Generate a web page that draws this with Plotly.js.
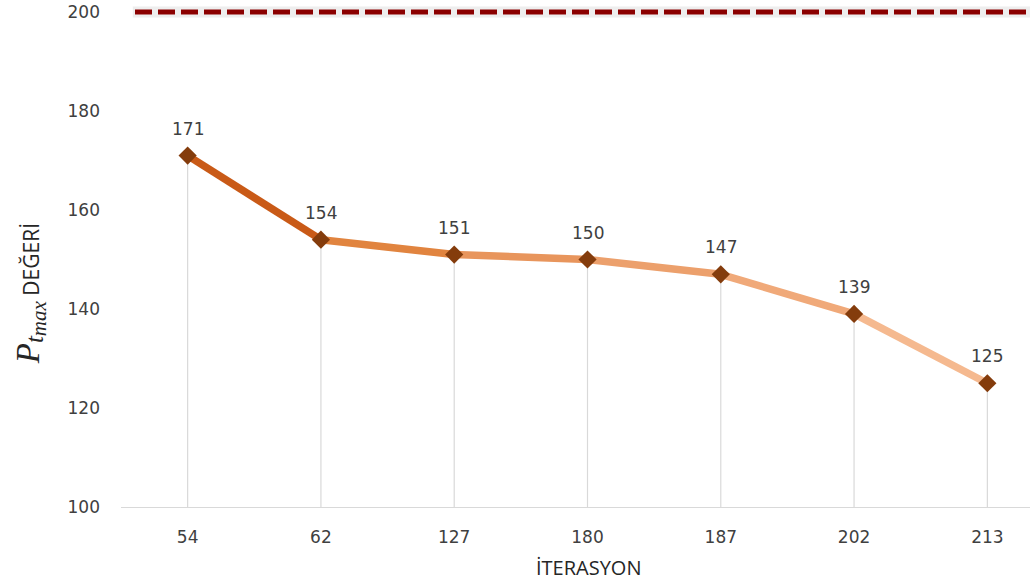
<!DOCTYPE html>
<html>
<head>
<meta charset="utf-8">
<script src="https://cdn.plot.ly/plotly-3.0.1.min.js"></script>
<style>html,body{margin:0;padding:0;background:#fff;}#chart{width:1030px;height:587px;}</style>
</head>
<body>
<div id="chart"></div>
<script>
// ---- data ----
const iterations = ['54', '62', '127', '180', '187', '202', '213'];
const ptmaxValues = [171, 154, 151, 150, 147, 139, 125];
const limitValue = 200;
const yTickValues = [100, 120, 140, 160, 180, 200];
const segmentColors = ['#c95a17', '#e1843f', '#e8955c', '#eca06c', '#f0a979', '#f5b98f'];
const yMin = 100, yMax = 200;

const traces = [];

// vertical drop lines via error bars
traces.push({
  type: 'scatter', mode: 'markers', x: iterations, y: ptmaxValues,
  marker: {size: 1, opacity: 0},
  error_y: {type: 'data', symmetric: false, array: ptmaxValues.map(() => 0),
    arrayminus: ptmaxValues.map(v => v - yMin), color: '#d9d9d9', thickness: 1.2, width: 0},
  hoverinfo: 'skip', showlegend: false
});

// gradient line made of segments
for (let i = 0; i < iterations.length - 1; i++) {
  traces.push({
    type: 'scatter', mode: 'lines',
    x: [iterations[i], iterations[i + 1]], y: [ptmaxValues[i], ptmaxValues[i + 1]],
    line: {color: segmentColors[i], width: 7.5},
    hoverinfo: 'skip', showlegend: false
  });
}

// markers
traces.push({
  type: 'scatter', mode: 'markers', x: iterations, y: ptmaxValues,
  marker: {symbol: 'diamond', size: 14, color: '#843c0c'},
  showlegend: false
});

const annotations = iterations.map((c, i) => ({
  x: i, y: ptmaxValues[i], xref: 'x', yref: 'y', text: String(ptmaxValues[i]),
  showarrow: false, yshift: 27, yanchor: 'middle',
  font: {family: 'DejaVu Sans', size: 17, color: '#404040'}
}));

annotations.push({
  xref: 'paper', yref: 'paper', x: 0.514, y: -0.123, xanchor: 'center', yanchor: 'middle',
  text: 'İTERASYON', showarrow: false,
  font: {family: 'Open Sans', size: 20, color: '#262626'}
});
annotations.push({
  xref: 'paper', yref: 'paper', x: -0.100, y: 0.43, xanchor: 'center', yanchor: 'middle',
  textangle: -90, showarrow: false,
  text: '<span style="font-family:Liberation Serif;font-size:33px"><i>P</i></span><sub><span style="font-family:Liberation Serif;font-size:25px"><i>t</i></span><sub><span style="font-family:Liberation Serif;font-size:21px"><i>max</i></span></sub></sub> DEĞERİ',
  font: {family: 'Open Sans', size: 21, color: '#262626'}
});

const limitY = (limitValue - yMin) / (yMax - yMin);

const layout = {
  width: 1030, height: 587,
  margin: {l: 121, r: 0, t: 12, b: 80},
  paper_bgcolor: '#ffffff', plot_bgcolor: '#ffffff',
  showlegend: false,
  xaxis: {
    type: 'category', range: [-0.5, 6.32],
    showgrid: false, zeroline: false, showline: true, linecolor: '#d9d9d9', linewidth: 1.2,
    ticks: '', ticklabelstandoff: 14,
    tickfont: {family: 'DejaVu Sans', size: 17, color: '#404040'}
  },
  yaxis: {
    range: [yMin, yMax], tickvals: yTickValues,
    showgrid: false, zeroline: false, showline: false, ticks: '',
    ticklabelstandoff: 20,
    tickfont: {family: 'DejaVu Sans', size: 17, color: '#404040'}
  },
  shapes: [
    {type: 'line', xref: 'paper', yref: 'paper', x0: 0.013, x1: 1, y0: limitY, y1: limitY,
      line: {color: 'rgba(160,160,160,0.18)', width: 11}, layer: 'above'},
    {type: 'line', xref: 'paper', yref: 'paper', x0: 0.0154, x1: 1, y0: limitY, y1: limitY,
      line: {color: '#8b0000', width: 5, dash: '17px,6px'}, layer: 'above'}
  ],
  annotations: annotations
};

Plotly.newPlot('chart', traces, layout, {displayModeBar: false, staticPlot: true});
</script>
</body>
</html>
